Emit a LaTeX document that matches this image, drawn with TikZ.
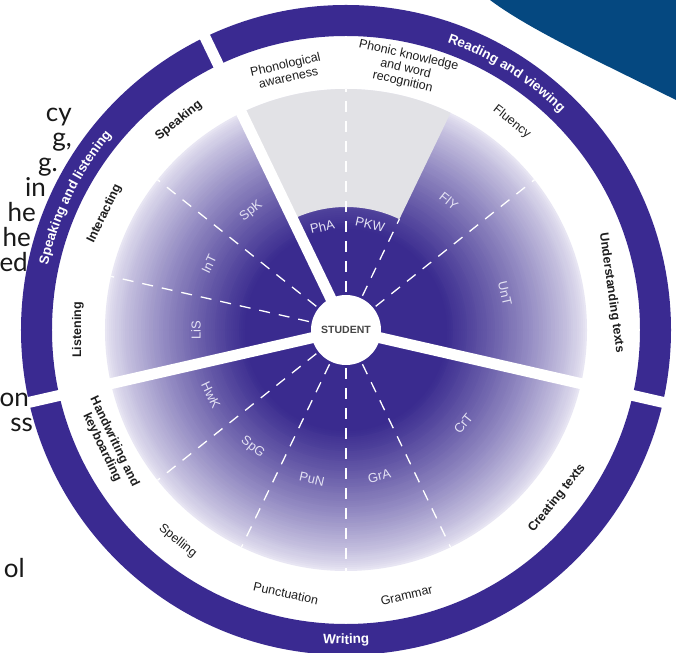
\documentclass[tikz,border=0pt]{standalone}
\usepackage{fontspec}
\setmainfont{Liberation Sans}
\newfontfamily\slidefont{Lato}
\usetikzlibrary{decorations.text}
\definecolor{ringc}{RGB}{58,42,145}
\definecolor{pdark}{RGB}{58,43,143}
\definecolor{plight}{RGB}{234,232,244}
\definecolor{grayreg}{RGB}{226,226,230}
\definecolor{navyc}{RGB}{5,72,128}
\definecolor{bandtext}{RGB}{30,30,30}
\definecolor{innertext}{RGB}{228,226,244}
\definecolor{hubtext}{RGB}{70,70,70}
\newcommand\ringfont{\bfseries\fontsize{13.5}{14}\selectfont}
\begin{document}
\begin{tikzpicture}[x=1pt,y=1pt,
  bandlab/.style={font=\fontsize{12.5}{13.5}\selectfont, text=bandtext, align=center, inner sep=0},
  bandbold/.style={bandlab, font=\bfseries\fontsize{12.5}{13.5}\selectfont},
  innerlab/.style={font=\fontsize{13}{13}\selectfont, text=innertext, inner sep=0},
  spoke/.style={white, line width=11pt},
  divider/.style={white, line width=1.3pt, dash pattern=on 11pt off 9pt},
  frag/.style={font=\slidefont\fontsize{26}{26}\selectfont, text=black!90, anchor=base east, inner sep=0}]
\useasboundingbox (-346,-322) rectangle (330,330);
\fill[white] (-346,-322) rectangle (330,330);
% top-right navy shape
\fill[navyc] (144,330) .. controls (184,300) and (254,268) .. (330,230) -- (330,330) -- cycle;
% outer ring
\fill[ringc, even odd rule] (0,0) circle[radius=325] circle[radius=294];
% radial gradient of the wheel (concentric discs, light outside, dark inside)
\foreach \i in {0,...,73} {
  \pgfmathsetmacro\rr{241-2*\i}
  \pgfmathtruncatemacro\pp{min(100,100*((2*\i+1)/140)^0.8)}
  \fill[pdark!\pp!plight] (0,0) circle[radius=\rr];
}
% grey region
\fill[grayreg] (64.29:123) arc[start angle=64.29, end angle=115.71, radius=123] -- (115.71:241) arc[start angle=115.71, end angle=64.29, radius=241] -- cycle;
% dashed dividers
\foreach \a/\r in {38.57/241, 64.29/123, 90/241, 141.43/241, 167.14/241, 218.57/241, 244.29/241, 270/241, 295.71/241}
  \draw[divider] (\a:38) -- (\a:\r);
% spokes (and ring gaps)
\foreach \a in {115.71, 192.86, -12.86}
  \draw[spoke] (\a:30) -- (\a:333);
% hub
\node[circle, fill=white, minimum size=70pt, inner sep=0, font=\bfseries\fontsize{10.5}{11}\selectfont, text=hubtext] (student) at (0,0) {STUDENT};
% ring labels
\path[decorate, decoration={text along path, text align=center, text color=white, text={|\ringfont|Speaking and listening}}] (191:305) arc[start angle=191, end angle=117, radius=305];
\path[decorate, decoration={text along path, text align=center, text color=white, text={|\ringfont|Reading and viewing}}] (110:305) arc[start angle=110, end angle=6, radius=305];
\path[decorate, decoration={text along path, text align=center, text color=white, text={|\ringfont|Writing}}] (245:314) arc[start angle=245, end angle=295, radius=314];
% band labels
\node[bandbold, rotate=38.57] (speaking) at (128.57:268) {Speaking};
\node[bandbold, rotate=64.29] (interacting) at (154.29:268) {Interacting};
\node[bandbold, rotate=90] (listening) at (180:268) {Listening};
\node[bandlab, rotate=12.86] (phonological) at (102.86:266) {Phonological\\awareness};
\node[bandlab, rotate=-12.86] (phonic) at (77.14:268) {Phonic knowledge\\and word\\recognition};
\node[bandlab, rotate=-38.57] (fluency) at (51.43:266) {Fluency};
\node[bandbold, rotate=-82] (understanding) at (8:268) {Understanding texts};
\node[bandbold, rotate=51.43] (creating) at (321.43:270) {Creating texts};
\node[bandlab, rotate=12.86] (grammar) at (282.86:272) {Grammar};
\node[bandlab, rotate=-12.86] (punctuation) at (257.14:270) {Punctuation};
\node[bandlab, rotate=-38.57] (spelling) at (231.43:270) {Spelling};
\node[bandbold, rotate=-64.29] (handwriting) at (205.71:264) {Handwriting and\\keyboarding};
% inner labels
\node[innerlab, rotate=38.57] (spk) at (128.57:152) {SpK};
\node[innerlab, rotate=64.29] (int) at (154.29:152) {InT};
\node[innerlab, rotate=90] (lis) at (180:150) {LiS};
\node[innerlab, rotate=12.86] (pha) at (102.86:106) {PhA};
\node[innerlab, rotate=-12.86] (pkw) at (77.14:108) {PKW};
\node[innerlab, rotate=-38.57] (fly) at (51.43:165) {FlY};
\node[innerlab, rotate=-77.14] (unt) at (12.86:163) {UnT};
\node[innerlab, rotate=-64.29] (hwk) at (205.71:150) {HwK};
\node[innerlab, rotate=-38.57] (spg) at (231.43:150) {SpG};
\node[innerlab, rotate=-12.86] (pun) at (257.14:153) {PuN};
\node[innerlab, rotate=12.86] (gra) at (282.86:150) {GrA};
\node[innerlab, rotate=51.43] (crt) at (321.43:150) {CrT};
% cropped slide text on the left
\node[frag] (f1) at (-274,208) {cy};
\node[frag] (f2) at (-274,183) {g,};
\node[frag] (f3) at (-288,158) {g.};
\node[frag] (f4) at (-300,133) {in};
\node[frag] (f5) at (-310,108) {he};
\node[frag] (f6) at (-315,83) {he};
\node[frag] (f7) at (-318,58) {ed};
\node[frag] (f8) at (-317,-77) {on};
\node[frag] (f9) at (-313,-102) {ss};
\node[frag] (f10) at (-321,-247) {ol};
\end{tikzpicture}
\end{document}
